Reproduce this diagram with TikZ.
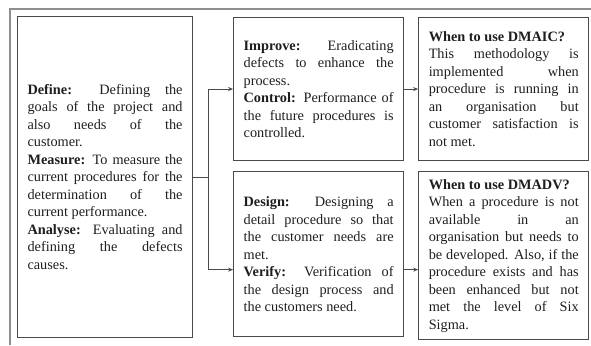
\documentclass[tikz,border=0pt]{standalone}
\usepackage{fontspec}
\setmainfont{Liberation Serif}
\usetikzlibrary{positioning,arrows.meta}
\setlength{\parindent}{0pt}
\definecolor{boxline}{HTML}{4A4A4A}
\definecolor{frameline}{HTML}{8E8E8E}
\definecolor{inktext}{HTML}{1E1E1E}
\newcommand{\boxfont}{\fontsize{14.3}{17.5}\selectfont\tolerance=10000\relax\hyphenpenalty=10000\relax\exhyphenpenalty=10000\relax}
\tikzset{
    phasebox/.style={draw=boxline, line width=1.1pt, text=inktext, align=justify,
        inner xsep=10pt, inner ysep=0pt, anchor=north west, font=\boxfont},
    link/.style={draw=boxline, line width=0.9pt},
    linkarrow/.style={link, -{Stealth[length=5pt,width=4pt]}},
}

\begin{document}
\begin{tikzpicture}[x=1pt, y=-1pt]
    \useasboundingbox (0,0) rectangle (591,345);
    \draw [frameline, line width=2pt] (9.5,345) |- (591,9);

    \node [phasebox, text width=155pt, minimum height=321pt] (dma) at (17,16) {\textbf{Define:} Defining the\linebreak goals of the project and\linebreak also needs of the\linebreak customer.\par
    \textbf{Measure:} To measure the\linebreak current procedures for the\linebreak determination of the\linebreak current performance.\par
    \textbf{Analyse:} Evaluating and\linebreak defining the defects\linebreak causes.};
    \node [phasebox, text width=150pt, minimum height=143pt, right=40pt of dma.north east, anchor=north west, yshift=-1pt] (ic) {\textbf{Improve:} Eradicating\linebreak defects to enhance the\linebreak process.\par
    \textbf{Control:} Performance of\linebreak the future procedures is\linebreak controlled.};
    \node [phasebox, text width=150pt, minimum height=165pt, below=10pt of ic.south west, anchor=north west] (dv) {\textbf{Design:} Designing a\linebreak detail procedure so that\linebreak the customer needs are\linebreak met.\par
    \textbf{Verify:} Verification of\linebreak the design process and\linebreak the customers need.};
    \node [phasebox, text width=150pt, minimum height=143pt, right=14pt of ic.north east, anchor=north west] (dmaic) {\textbf{When to use DMAIC?}\par
    This methodology is\linebreak implemented when\linebreak procedure is running in\linebreak an organisation but\linebreak customer satisfaction is\linebreak not met.};
    \node [phasebox, text width=150pt, minimum height=168pt, right=14pt of dv.north east, anchor=north west] (dmadv) {\textbf{When to use DMADV?}\par
    When a procedure is not\linebreak available in an\linebreak organisation but needs to\linebreak be developed. Also, if the\linebreak procedure exists and has\linebreak been enhanced but not\linebreak met the level of Six\linebreak Sigma.};

    \coordinate [right=15pt of dma.east] (split);
    \coordinate [yshift=-15.5pt] (vfy) at (dv.west);

    \draw [link] (dma.east) -- (split);
    \draw [linkarrow] (split) |- (ic.west);
    \draw [linkarrow] (split) |- (vfy);
    \draw [linkarrow] (ic.east) -- (dmaic.west);
    \draw [linkarrow] (vfy -| dv.east) -- (vfy -| dmadv.west);
\end{tikzpicture}
\end{document}
